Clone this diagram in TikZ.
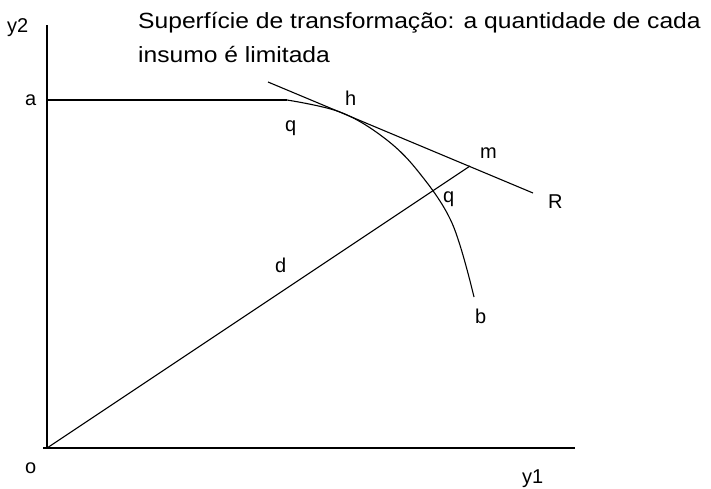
\documentclass[tikz,border=0pt]{standalone}
\usepackage{fontspec}
\setmainfont{Liberation Sans}
\newfontfamily\titlefont[FakeStretch=1.12]{Liberation Sans}
\begin{document}
\begin{tikzpicture}[x=1pt,y=-1pt,
  axis/.style={line width=1.3pt},
  curveline/.style={line width=1.1pt},
  lbl/.style={anchor=base west,inner sep=0pt,font=\fontsize{20}{24}\selectfont},
  ttl/.style={anchor=base west,inner sep=0pt,font=\titlefont\fontsize{22}{26}\selectfont}]
\useasboundingbox (0,0) rectangle (711,488);
% key points
\coordinate (O) at (47,448);
\coordinate (ytop) at (47,25);
\coordinate (xl) at (43,448);
\coordinate (xend) at (575,448);
\coordinate (A) at (47,100);
\coordinate (C0) at (287,100);
\coordinate (H) at (340,112);
\coordinate (Q2) at (430,190);
\coordinate (B) at (474,297);
\coordinate (Rs) at (268,82);
\coordinate (Re) at (533,193);
\coordinate (M) at (470,166);
% axes
\draw[axis] (O) -- (ytop);
\draw[axis] (xl) -- (xend);
% flat part and transformation curve
\draw[curveline] (A) -- (C0);
\draw[curveline] plot[smooth,tension=0.6] coordinates {(C0) (H) (383,137) (417,170) (452,223) (B)};
% tangent line R
\draw[curveline] (Rs) -- (Re);
% ray from origin to m
\draw[curveline] (O) -- (M);
% labels
\node[ttl] (t1) at (138,28) {Superfície de transformação: a quantidade de cada};
\node[ttl] (t2) at (138,62) {insumo é limitada};
\node[lbl] (ly2) at (7,32) {y2};
\node[lbl] (la) at (25,105) {a};
\node[lbl] (lo) at (25,473) {o};
\node[lbl] (ly1) at (522,483) {y1};
\node[lbl] (lh) at (345,105) {h};
\node[lbl] (lq) at (285,131) {q};
\node[lbl] (lm) at (480,158) {m};
\node[lbl] (lq2) at (443,202) {q};
\node[lbl] (lR) at (548,208) {R};
\node[lbl] (ld) at (275,272) {d};
\node[lbl] (lb) at (475,323) {b};
\end{tikzpicture}
\end{document}
